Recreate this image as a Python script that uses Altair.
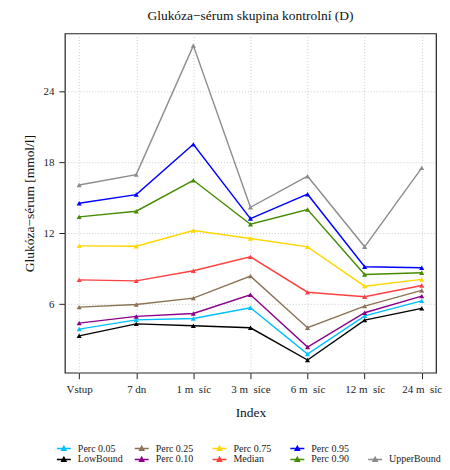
import altair as alt
import pandas as pd

categories = ["Vstup", "7 dn", "1 m\u00a0\u00a0síc", "3 m\u00a0\u00a0síce", "6 m\u00a0\u00a0síc", "12 m\u00a0\u00a0síc", "24 m\u00a0\u00a0síc"]

low_bound  = [3.32, 4.33, 4.17, 4.00, 1.27, 4.65, 5.64]
perc_05    = [3.89, 4.67, 4.79, 5.69, 1.77, 5.01, 6.28]
perc_10    = [4.39, 4.96, 5.21, 6.79, 2.37, 5.27, 6.68]
perc_25    = [5.75, 5.97, 6.51, 8.37, 4.00, 5.83, 7.16]
median     = [8.05, 7.97, 8.82, 10.00, 7.01, 6.62, 7.58]
perc_75    = [10.93, 10.90, 12.23, 11.55, 10.85, 7.52, 8.09]
perc_90    = [13.38, 13.86, 16.48, 12.76, 14.00, 8.51, 8.65]
perc_95    = [14.54, 15.27, 19.52, 13.24, 15.30, 9.16, 9.08]
upper      = [16.08, 16.96, 27.87, 14.19, 16.82, 10.85, 17.53]

series = {
    "LowBound": low_bound,
    "Perc 0.05": perc_05,
    "Perc 0.10": perc_10,
    "Perc 0.25": perc_25,
    "Median": median,
    "Perc 0.75": perc_75,
    "Perc 0.90": perc_90,
    "Perc 0.95": perc_95,
    "UpperBound": upper,
}

legend_order = ["Perc 0.05", "Perc 0.25", "Perc 0.75", "Perc 0.95", " ",
                "LowBound", "Perc 0.10", "Median", "Perc 0.90", "UpperBound"]
colors = {
    "Perc 0.05": "#00BFFF", "Perc 0.25": "#8B7355", "Perc 0.75": "#FFD700",
    "Perc 0.95": "#0000FF", " ": "#FFFFFF", "LowBound": "#000000",
    "Perc 0.10": "#8B008B", "Median": "#FF4040", "Perc 0.90": "#458B00",
    "UpperBound": "#8C8C8C",
}

rows = []
for name, vals in series.items():
    for c, v in zip(categories, vals):
        rows.append({"Index": c, "value": v, "series": name})
df = pd.DataFrame(rows)

FONT = "Liberation Serif"

color = alt.Color(
    "series:N",
    scale=alt.Scale(domain=legend_order, range=[colors[k] for k in legend_order]),
    legend=alt.Legend(
        title=None, orient="none", legendX=-7, legendY=410, columns=5,
        direction="horizontal",
        symbolType="M-1.4,0L1.4,0M-0.4,0.35L0,-0.42L0.4,0.35Z",
        symbolSize=100, symbolStrokeWidth=1.6,
        labelFont=FONT, labelFontSize=10, labelColor="#222",
        rowPadding=-3, columnPadding=1, gridAlign="all", labelOffset=8,
    ),
)

x = alt.X(
    "Index:N", sort=categories, title="Index",
    scale=alt.Scale(type="point", padding=0.25),
    axis=alt.Axis(labelAngle=0, grid=True, gridDash=[1, 2], gridColor="#cccccc",
                  domain=False, tickColor="#222", tickSize=6, labelPadding=5,
                  titlePadding=11),
)
y = alt.Y(
    "value:Q", title="Glukóza−sérum [mmol/l]",
    scale=alt.Scale(domain=[0.2, 28.9], nice=False, zero=False),
    axis=alt.Axis(values=[6, 12, 18, 24], grid=True, gridDash=[1, 2], gridColor="#cccccc",
                  domain=False, tickColor="#222", tickSize=6, labelPadding=5,
                  titlePadding=6),
)

lines = alt.Chart(df).mark_line(strokeWidth=1.4).encode(x=x, y=y, color=color)
points = alt.Chart(df).mark_point(shape="triangle-up", filled=True, size=26, opacity=1).encode(
    x=x, y=y, color=color
)

chart = (
    alt.layer(lines, points)
    .properties(
        width=372, height=340,
        padding={"left": 15, "top": 0, "right": 0, "bottom": 0},
        title=alt.TitleParams("Glukóza−sérum skupina kontrolní (D)", font=FONT,
                              fontSize=13.5, fontWeight="normal", color="#111", offset=11),
    )
    .configure_view(stroke="#222", strokeWidth=1.2)
    .configure_axis(labelFont=FONT, titleFont=FONT, labelFontSize=11, titleFontSize=13.5,
                    titleFontWeight="normal", labelColor="#222", titleColor="#111")
)

chart.save("out.html", embed_options={"renderer": "svg", "actions": False})
